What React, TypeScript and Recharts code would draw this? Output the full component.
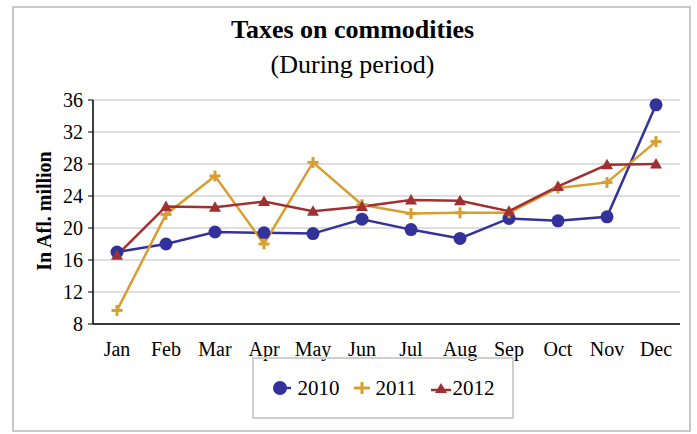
import React from 'react';
import { CartesianGrid, Label, Legend, Line, LineChart, XAxis, YAxis } from 'recharts';

const months = ["Jan", "Feb", "Mar", "Apr", "May", "Jun", "Jul", "Aug", "Sep", "Oct", "Nov", "Dec"];
const taxes2010 = [17.0, 18.0, 19.5, 19.4, 19.3, 21.1, 19.8, 18.7, 21.2, 20.9, 21.4, 35.4];
const taxes2011 = [9.7, 21.7, 26.5, 18.0, 28.2, 22.9, 21.8, 21.9, 21.9, 25.0, 25.7, 30.8];
const taxes2012 = [16.6, 22.7, 22.6, 23.3, 22.1, 22.7, 23.5, 23.4, 22.1, 25.2, 27.9, 28.0];
const yTicks = [8, 12, 16, 20, 24, 28, 32, 36];

const data = months.map((m, i) => ({
  month: m,
  y2010: taxes2010[i],
  y2011: taxes2011[i],
  y2012: taxes2012[i],
}));

const BLUE = "#32329a";
const GOLD = "#d79e30";
const RED = "#a03032";
const FONT = "'Liberation Serif', 'Times New Roman', Times, serif";

const CircleDot = (props: any) => {
  const { cx, cy } = props;
  if (cx == null || cy == null) return null;
  return <circle cx={cx} cy={cy} r={6.5} fill={BLUE} />;
};

const PlusDot = (props: any) => {
  const { cx, cy } = props;
  if (cx == null || cy == null) return null;
  return (
    <g stroke={GOLD} strokeWidth={3}>
      <line x1={cx - 5.5} y1={cy} x2={cx + 5.5} y2={cy} />
      <line x1={cx} y1={cy - 5.5} x2={cx} y2={cy + 5.5} />
    </g>
  );
};

const TriangleDot = (props: any) => {
  const { cx, cy } = props;
  if (cx == null || cy == null) return null;
  return <path d={`M${cx},${cy - 6} L${cx + 6},${cy + 4.5} L${cx - 6},${cy + 4.5} Z`} fill={RED} />;
};

const LegendBox = () => (
  <div
    style={{
      width: 262,
      height: 62,
      boxSizing: 'border-box',
      border: '2px solid #cfcfcf',
      display: 'flex',
      alignItems: 'center',
      justifyContent: 'center',
      fontFamily: FONT,
      fontSize: 21,
      color: '#000',
    }}
  >
    <svg width={22} height={16}>
      <line x1={8} y1={8} x2={20} y2={8} stroke={BLUE} strokeWidth={2.5} />
      <circle cx={9} cy={8} r={7} fill={BLUE} />
    </svg>
    <span style={{ marginLeft: 4, marginRight: 14 }}>2010</span>
    <svg width={18} height={16}>
      <g stroke={GOLD} strokeWidth={3}>
        <line x1={1} y1={8} x2={17} y2={8} />
        <line x1={9} y1={2} x2={9} y2={14} />
      </g>
    </svg>
    <span style={{ marginLeft: 4, marginRight: 14 }}>2011</span>
    <svg width={20} height={16}>
      <line x1={0} y1={10} x2={20} y2={10} stroke={RED} strokeWidth={2.5} />
      <path d="M10,3 L16,13 L4,13 Z" fill={RED} />
    </svg>
    <span style={{ marginLeft: 2 }}>2012</span>
  </div>
);

const App = () => {
  return (
    <div style={{ position: 'absolute', left: 0, top: 0, width: 697, height: 434, background: '#fff', fontFamily: FONT }}>
      <div
        style={{
          position: 'absolute',
          left: 12,
          top: 6,
          width: 679,
          height: 426,
          boxSizing: 'border-box',
          border: '2px solid #c8c8c8',
        }}
      />
      <div
        style={{
          position: 'absolute',
          left: 0,
          width: 697,
          top: 12,
          textAlign: 'center',
          fontFamily: FONT,
          fontSize: 26,
          lineHeight: '35px',
          color: '#000',
          paddingLeft: 8,
          boxSizing: 'border-box',
        }}
      >
        <div style={{ fontWeight: 'bold' }}>Taxes on commodities</div>
        <div>(During period)</div>
      </div>
      <div style={{ position: 'absolute', left: 0, top: 0 }}>
        <LineChart width={697} height={434} data={data} margin={{ top: 100, right: 17, bottom: 70, left: 0 }}>
          <CartesianGrid vertical={false} stroke="#d4d4d4" strokeWidth={1.5} />
          <XAxis
            dataKey="month"
            height={40}
            padding={{ left: 24, right: 24 }}
            axisLine={{ stroke: '#000', strokeWidth: 1.5 }}
            tickLine={false}
            tickMargin={12}
            tick={{ fill: '#000', fontFamily: FONT, fontSize: 20, style: { fontFamily: FONT } }}
            interval={0}
          />
          <YAxis
            width={93}
            domain={[8, 36]}
            ticks={yTicks}
            axisLine={{ stroke: '#000', strokeWidth: 1.5 }}
            tickLine={{ stroke: '#000' }}
            tickSize={5}
            tickMargin={5}
            tick={{ fill: '#000', fontFamily: FONT, fontSize: 20, style: { fontFamily: FONT } }}
          >
            <Label
              content={() => (
                <text
                  x={51}
                  y={211}
                  transform="rotate(-90 51 211)"
                  textAnchor="middle"
                  style={{ fontFamily: FONT }}
                  fontSize={20}
                  fontWeight="bold"
                  fill="#000"
                >
                  In Afl. million
                </text>
              )}
            />
          </YAxis>
          <Legend
            layout="horizontal"
            verticalAlign="middle"
            align="center"
            wrapperStyle={{ position: 'absolute', left: 252, top: 357, width: 262, height: 62 }}
            content={() => <LegendBox />}
          />
          <Line dataKey="y2010" stroke={BLUE} strokeWidth={2.5} dot={<CircleDot />} activeDot={false} isAnimationActive={false} />
          <Line dataKey="y2011" stroke={GOLD} strokeWidth={2.5} dot={<PlusDot />} activeDot={false} isAnimationActive={false} />
          <Line dataKey="y2012" stroke={RED} strokeWidth={2.5} dot={<TriangleDot />} activeDot={false} isAnimationActive={false} />
        </LineChart>
      </div>
    </div>
  );
};

export default App;
